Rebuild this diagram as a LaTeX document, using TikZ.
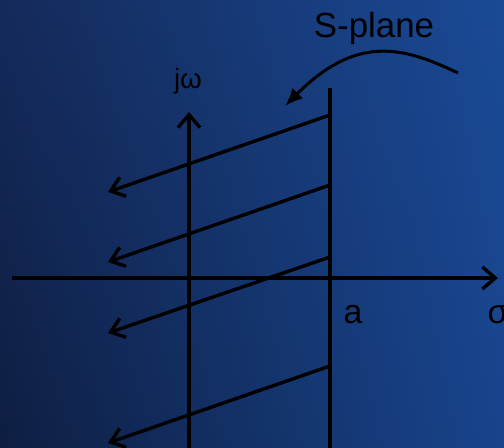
\documentclass[tikz,border=0pt]{standalone}
\usepackage{fontspec}
\setmainfont{Liberation Sans}
\usepackage{tikz}
\usetikzlibrary{arrows.meta,calc,shadings}
\definecolor{cBgTL}{RGB}{20,42,90}
\definecolor{cBgTR}{RGB}{26,74,150}
\definecolor{cBgBL}{RGB}{14,30,66}
\definecolor{cBgBR}{RGB}{24,68,140}

\begin{document}
\begin{tikzpicture}[x=1bp,y=-1bp,line width=3.4bp]
\tikzset{axis/.style={-{Straight Barb[length=13bp,width=22bp]}},
  ray/.style={-{Straight Barb[length=13bp,width=20bp]}},
  lbl/.style={inner sep=0pt,text=black,font=\fontsize{34}{40}\selectfont}}
\shade[upper left=cBgTL,upper right=cBgTR,lower left=cBgBL,lower right=cBgBR] (0,0) rectangle (504,448);
\useasboundingbox (0,0) rectangle (504,448);

\coordinate (xl) at (12,278);
\coordinate (xr) at (498,278);
\coordinate (yb) at (189,452);
\coordinate (yt) at (189,112);
\coordinate (ab) at (330,452);
\coordinate (atop) at (330,88);

\coordinate (r1s) at (330,115);
\coordinate (r1e) at (108,192);
\coordinate (r2s) at (330,185);
\coordinate (r2e) at (108,262);
\coordinate (r3s) at (330,257);
\coordinate (r3e) at (108,333);
\coordinate (r4s) at (330,366);
\coordinate (r4e) at (108,443);

\coordinate (cs) at (458,73);
\coordinate (ce) at (285,106);

\node[lbl,anchor=base,font=\fontsize{35}{40}\selectfont] (splane) at (374,38) {S-plane};
\node[lbl,anchor=base,font=\fontsize{28}{32}\selectfont] (jw) at (188,89) {jω};
\node[lbl,anchor=base west] (alab) at (342,323) {a};
\node[lbl,anchor=base west] (sig) at (486,323) {σ};

\draw[axis] (xl) -- (xr);
\draw[axis] (yb) -- (yt);
\draw (ab) -- (atop);

\draw[ray] (r1s) -- (r1e);
\draw[ray] (r2s) -- (r2e);
\draw[ray] (r3s) -- (r3e);
\draw[ray] (r4s) -- (r4e);

\draw[line width=3bp,-{Latex[length=18bp,width=15bp]}] (cs) .. controls (402,46) and (356,35) .. (ce);
\end{tikzpicture}
\end{document}
